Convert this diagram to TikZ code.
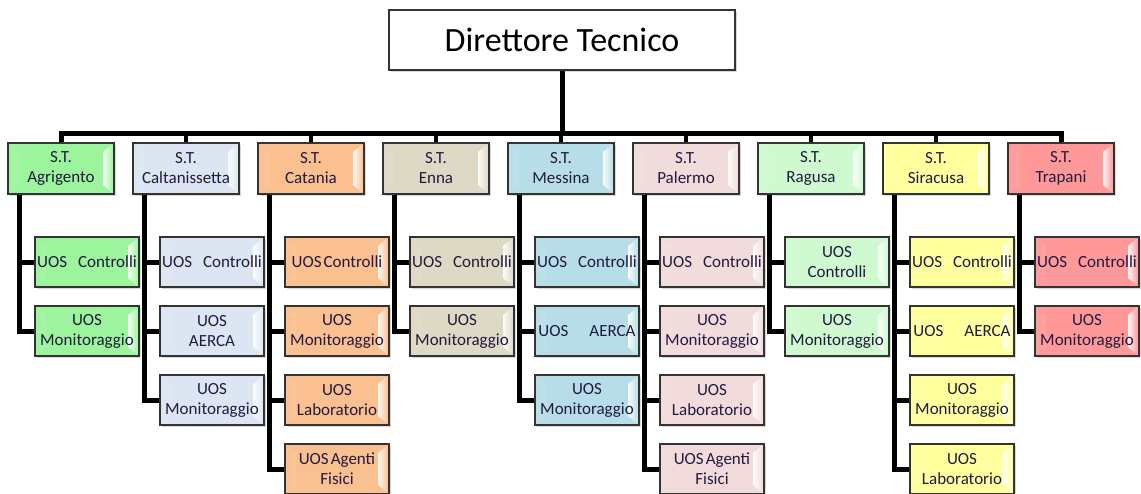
\documentclass[tikz,border=0pt]{standalone}
\usepackage{fontspec}
\setmainfont{Carlito}
\usetikzlibrary{calc,shadows}
\definecolor{agr}{HTML}{9CF59C}
\definecolor{cal}{HTML}{DCE6F2}
\definecolor{cat}{HTML}{FAC090}
\definecolor{enn}{HTML}{DDD9C4}
\definecolor{mes}{HTML}{B7DEE8}
\definecolor{pal}{HTML}{F2DCDB}
\definecolor{rag}{HTML}{CFFACF}
\definecolor{sir}{HTML}{FFFF9E}
\definecolor{tra}{HTML}{FF9999}
\definecolor{txt}{HTML}{221A40}
\definecolor{bord}{HTML}{333333}
\tikzset{
  bevel/.style={path picture={
    \shade[left color=#1, right color=white!90!#1]
      ($(path picture bounding box.north west)+(1pt,-1pt)$) --
      ($(path picture bounding box.north west)+(11pt,-9pt)$) --
      ($(path picture bounding box.south west)+(11pt,9pt)$) --
      ($(path picture bounding box.south west)+(1pt,1pt)$) -- cycle;
    \shade[left color=white!90!#1, right color=#1]
      ($(path picture bounding box.north east)+(-1pt,-1pt)$) --
      ($(path picture bounding box.north east)+(-11pt,-9pt)$) --
      ($(path picture bounding box.south east)+(-11pt,9pt)$) --
      ($(path picture bounding box.south east)+(-1pt,1pt)$) -- cycle;
  }},
  shadowed/.style={drop shadow={opacity=0.3, shadow xshift=1.5pt, shadow yshift=-1.5pt}},
  unitbox/.style={rectangle, draw=bord, line width=1.3pt, fill=#1, text=txt,
    align=center, inner sep=0pt, font=\fontsize{17}{20}\selectfont,
    shadowed, bevel=#1},
  stbox/.style={unitbox=#1, minimum width=106pt, minimum height=51pt},
  uosbox/.style={unitbox=#1, minimum width=104pt, minimum height=50pt},
  topbox/.style={rectangle, draw=bord, line width=1.5pt, fill=white, text=black,
    minimum width=346pt, minimum height=60pt, inner sep=0pt,
    font=\fontsize{34}{40}\selectfont, shadowed},
  link/.style={line width=5pt, draw=black},
  stub/.style={line width=4pt, draw=black},
}
\newcommand{\gapC}{\hspace{11pt}}
\newcommand{\gapA}{\hspace{21pt}}
\begin{document}
\begin{tikzpicture}[x=1pt, y=-1pt]
\clip (0,0) rectangle (1141,493);
\fill[white] (0,0) rectangle (1141,493);

\node[topbox] (top) at (562,40) {Direttore Tecnico};

\node[stbox=agr] (st1) at (61,168.5) {S.T.\\Agrigento};
\node[stbox=cal] (st2) at (186,168.5) {S.T.\\Caltanissetta};
\node[stbox=cat] (st3) at (311,168.5) {S.T.\\Catania};
\node[stbox=enn] (st4) at (436,168.5) {S.T.\\Enna};
\node[stbox=mes] (st5) at (561,168.5) {S.T.\\Messina};
\node[stbox=pal] (st6) at (686,168.5) {S.T.\\Palermo};
\node[stbox=rag] (st7) at (811,168.5) {S.T.\\Ragusa};
\node[stbox=sir] (st8) at (936,168.5) {S.T.\\Siracusa};
\node[stbox=tra] (st9) at (1061,168.5) {S.T.\\Trapani};

% Agrigento
\node[uosbox=agr] (a1) at (87,262) {UOS\gapC Controlli};
\node[uosbox=agr] (a2) at (87,331) {UOS\\Monitoraggio};
% Caltanissetta
\node[uosbox=cal] (b1) at (212,262) {UOS\gapC Controlli};
\node[uosbox=cal] (b2) at (212,331) {UOS\\AERCA};
\node[uosbox=cal] (b3) at (212,400) {UOS\\Monitoraggio};
% Catania
\node[uosbox=cat] (c1) at (337,262) {UOS\hspace{2pt}Controlli};
\node[uosbox=cat] (c2) at (337,331) {UOS\\Monitoraggio};
\node[uosbox=cat] (c3) at (337,400) {UOS\\Laboratorio};
\node[uosbox=cat] (c4) at (337,469) {UOS\hspace{2pt}Agenti\\Fisici};
% Enna
\node[uosbox=enn] (d1) at (462,262) {UOS\gapC Controlli};
\node[uosbox=enn] (d2) at (462,331) {UOS\\Monitoraggio};
% Messina
\node[uosbox=mes] (e1) at (587,262) {UOS\gapC Controlli};
\node[uosbox=mes] (e2) at (587,331) {UOS\gapA AERCA};
\node[uosbox=mes] (e3) at (587,400) {UOS\\Monitoraggio};
% Palermo
\node[uosbox=pal] (f1) at (712,262) {UOS\gapC Controlli};
\node[uosbox=pal] (f2) at (712,331) {UOS\\Monitoraggio};
\node[uosbox=pal] (f3) at (712,400) {UOS\\Laboratorio};
\node[uosbox=pal] (f4) at (712,469) {UOS\hspace{2pt}Agenti\\Fisici};
% Ragusa
\node[uosbox=rag] (g1) at (837,262) {UOS\\Controlli};
\node[uosbox=rag] (g2) at (837,331) {UOS\\Monitoraggio};
% Siracusa
\node[uosbox=sir] (h1) at (962,262) {UOS\gapC Controlli};
\node[uosbox=sir] (h2) at (962,331) {UOS\gapA AERCA};
\node[uosbox=sir] (h3) at (962,400) {UOS\\Monitoraggio};
\node[uosbox=sir] (h4) at (962,469) {UOS\\Laboratorio};
% Trapani
\node[uosbox=tra] (i1) at (1087,262) {UOS\gapC Controlli};
\node[uosbox=tra] (i2) at (1087,331) {UOS\\Monitoraggio};

% top connectors
\coordinate (bar) at (562,133);
\draw[link] (top.south) -- (bar);
\draw[link] (st1.north) |- (st9.north |- bar) -- (st9.north);
\foreach \s in {st2,st3,st4,st5,st6,st7,st8}
  \draw[stub] (\s.north) -- (\s.north |- bar);

% spines
\foreach \s/\kids in {st1/{a1,a2}, st2/{b1,b2,b3}, st3/{c1,c2,c3,c4},
    st4/{d1,d2}, st5/{e1,e2,e3}, st6/{f1,f2,f3,f4}, st7/{g1,g2},
    st8/{h1,h2,h3,h4}, st9/{i1,i2}}
  \foreach \k in \kids
    \draw[link] ([xshift=12pt]\s.south west) |- (\k.west);
\end{tikzpicture}
\end{document}
